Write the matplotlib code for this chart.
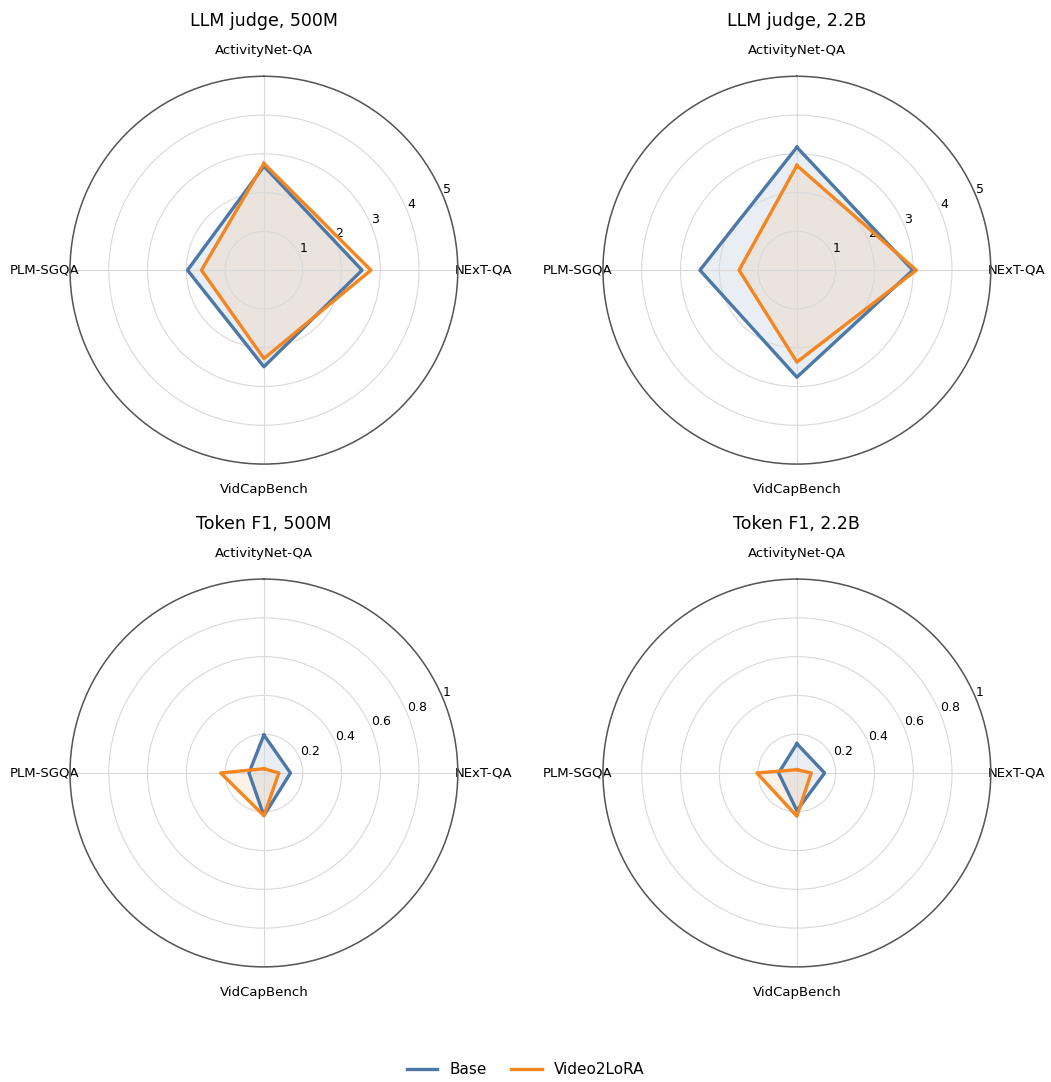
import numpy as np
import matplotlib.pyplot as plt

# benchmarks, clockwise from the top
categories = ['ActivityNet-QA', 'NExT-QA', 'VidCapBench', 'PLM-SGQA']

# LLM judge scores (0-5)
judge_500m_base = [2.68, 2.53, 2.49, 1.97]
judge_500m_v2l = [2.75, 2.76, 2.28, 1.61]
judge_2b_base = [3.17, 2.99, 2.76, 2.50]
judge_2b_v2l = [2.70, 3.08, 2.37, 1.49]

# token F1 (0-1)
f1_500m_base = [0.196, 0.137, 0.220, 0.077]
f1_500m_v2l = [0.022, 0.077, 0.220, 0.223]
f1_2b_base = [0.151, 0.143, 0.194, 0.094]
f1_2b_v2l = [0.017, 0.074, 0.223, 0.206]

titles = ['LLM judge, 500M', 'LLM judge, 2.2B', 'Token F1, 500M', 'Token F1, 2.2B']
base_color = '#4c78a8'
v2l_color = '#f5851f'

panels = [
    (titles[0], judge_500m_base, judge_500m_v2l, 5, [1, 2, 3, 4, 5], ['1', '2', '3', '4', '5']),
    (titles[1], judge_2b_base, judge_2b_v2l, 5, [1, 2, 3, 4, 5], ['1', '2', '3', '4', '5']),
    (titles[2], f1_500m_base, f1_500m_v2l, 1, [0.2, 0.4, 0.6, 0.8, 1.0], ['0.2', '0.4', '0.6', '0.8', '1']),
    (titles[3], f1_2b_base, f1_2b_v2l, 1, [0.2, 0.4, 0.6, 0.8, 1.0], ['0.2', '0.4', '0.6', '0.8', '1']),
]

fig = plt.figure(figsize=(10.51, 10.82), dpi=100)
positions = [
    [0.0666, 0.571, 0.369, 0.3586],
    [0.5737, 0.571, 0.369, 0.3586],
    [0.0666, 0.1063, 0.369, 0.3586],
    [0.5737, 0.1063, 0.369, 0.3586],
]

angles = np.linspace(0, 2 * np.pi, len(categories), endpoint=False)
closed = np.concatenate([angles, angles[:1]])

for pos, (title, base, v2l, rmax, rticks, rlabels) in zip(positions, panels):
    ax = fig.add_axes(pos, projection='polar')
    ax.set_theta_offset(np.pi / 2)
    ax.set_theta_direction(-1)

    b = base + base[:1]
    v = v2l + v2l[:1]
    ax.plot(closed, b, color=base_color, linewidth=2.4, label='Base')
    ax.fill(closed, b, color=base_color, alpha=0.12)
    ax.plot(closed, v, color=v2l_color, linewidth=2.4, label='Video2LoRA')
    ax.fill(closed, v, color=v2l_color, alpha=0.1)

    ax.set_ylim(0, rmax)
    ax.set_yticks(rticks)
    ax.set_yticklabels(rlabels, fontsize=9)
    ax.set_rlabel_position(67.5)
    ax.set_xticks(angles)
    ax.set_xticklabels(categories, fontsize=9.5)
    ax.tick_params(axis='x', pad=8)
    ax.grid(color='#d9d9d9', linewidth=0.8)
    ax.spines['polar'].set_color('#555555')
    ax.spines['polar'].set_linewidth(1.1)
    ax.set_title(title, fontsize=12.5, pad=13)

handles, labels = ax.get_legend_handles_labels()
fig.legend(handles, labels, loc='lower center', ncol=2, frameon=False,
           fontsize=11, bbox_to_anchor=(0.5, -0.008), handlelength=2.0,
           columnspacing=1.6)

fig.savefig('out.png', dpi=100)
